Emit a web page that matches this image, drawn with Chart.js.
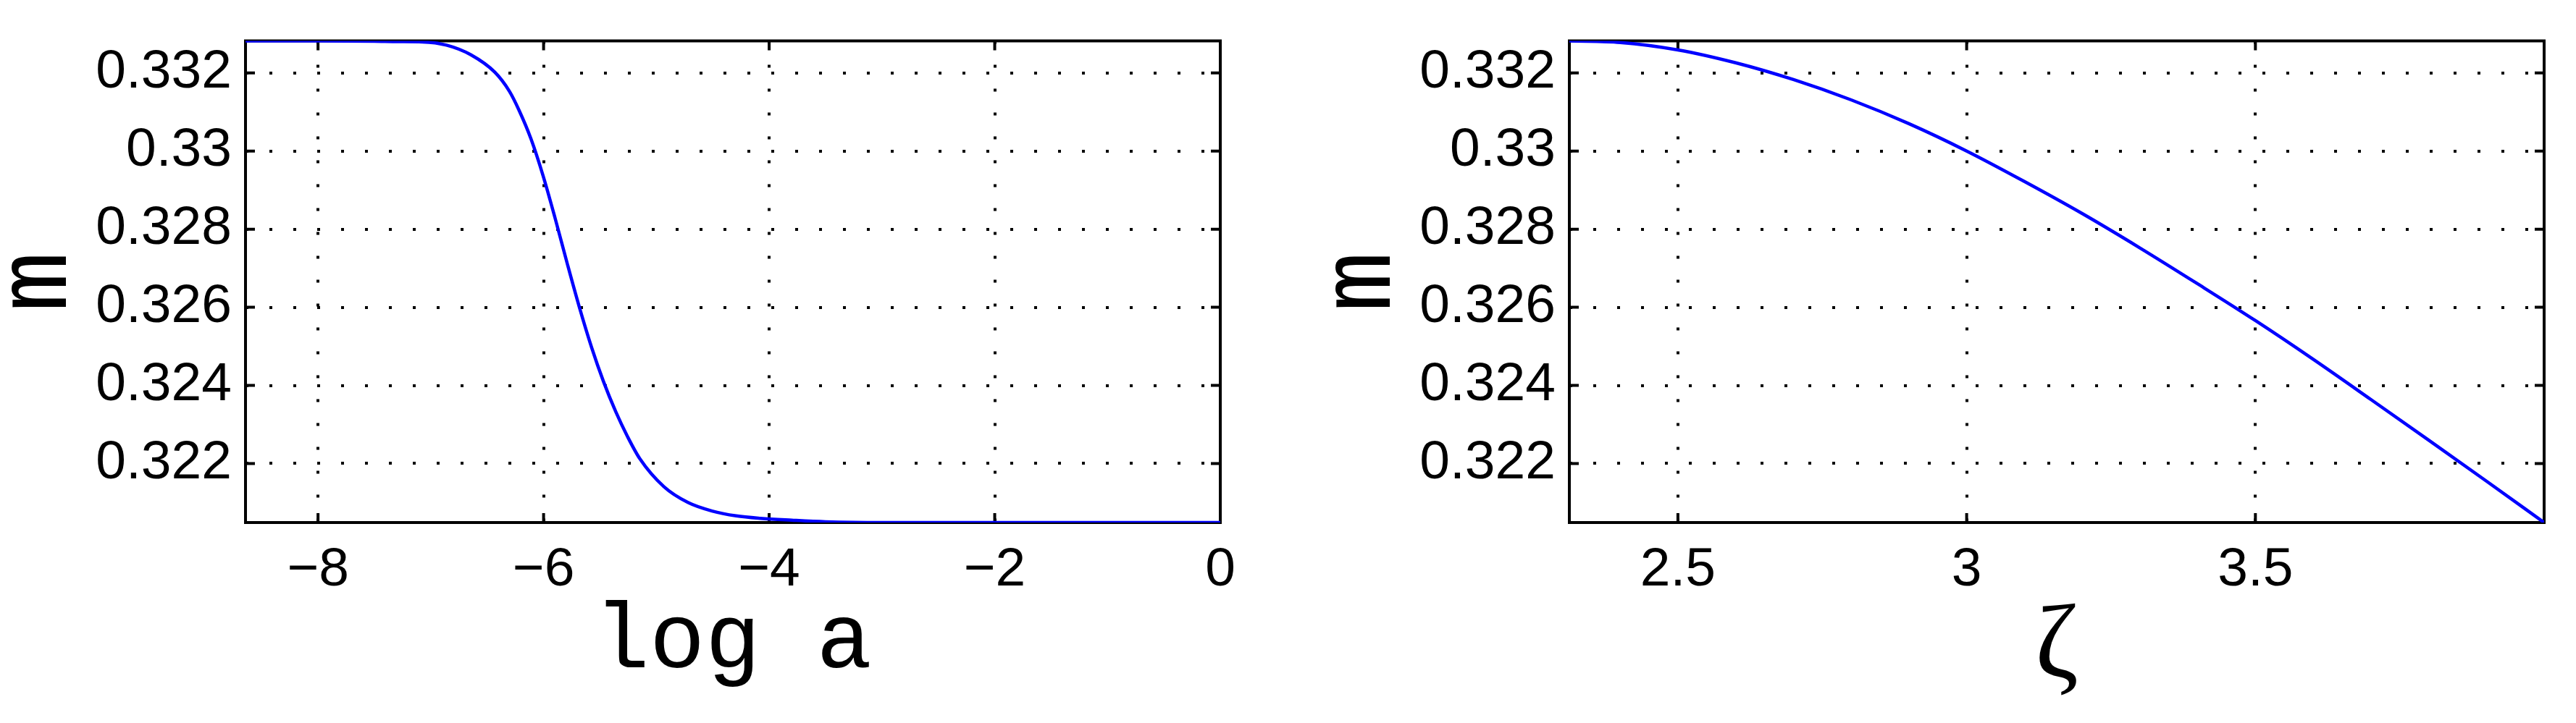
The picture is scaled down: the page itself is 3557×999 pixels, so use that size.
<!DOCTYPE html>
<html>
<head>
<meta charset="utf-8">
<script src="https://cdn.jsdelivr.net/npm/chart.js@4.4.1/dist/chart.umd.min.js"></script>
<style>
  html, body { margin: 0; padding: 0; background: #fff; }
  .panel { position: absolute; top: 0; }
  #left-panel { left: 0; }
  #right-panel { left: 1778px; }
</style>
</head>
<body>
<div class="panel" id="left-panel"><canvas id="left-chart" width="1778" height="999"></canvas></div>
<div class="panel" id="right-panel"><canvas id="right-chart" width="1779" height="999"></canvas></div>
<script>
// left panel: m against log a
const logA = [-8.643, -8.0, -7.5, -7.289, -7.075, -6.861, -6.647, -6.433, -6.304, -6.218,
              -6.112, -6.004, -5.897, -5.791, -5.683, -5.576, -5.469, -5.360, -5.255, -5.148,
              -4.934, -4.720, -4.506, -4.292, -4.078, -3.8, -3.5, -3.0, -2.0, 0];
const mLeft = [0.33282, 0.33282, 0.33281, 0.33280, 0.332794, 0.332712, 0.332468, 0.33202, 0.331534, 0.331046,
               0.330313, 0.329363, 0.328272, 0.327127, 0.326004, 0.324988, 0.3241, 0.323326, 0.322686, 0.32213,
               0.32141, 0.321004, 0.320785, 0.32066, 0.320597, 0.32055, 0.32051, 0.32049, 0.32049, 0.32049];

// right panel: m against zeta
const zeta = [2.312, 2.4, 2.5, 2.6, 2.7, 2.8, 2.9, 3.0, 3.1, 3.2,
              3.3, 3.4, 3.5, 3.6, 3.7, 3.8, 3.9, 4.0];
const mRight = [0.33282, 0.33278, 0.33259, 0.33226, 0.33183, 0.33131, 0.3307, 0.33, 0.32922, 0.3284,
                0.32752, 0.3266, 0.32566, 0.32467, 0.32364, 0.3226, 0.32155, 0.32049];

const yTicks = [0.322, 0.324, 0.326, 0.328, 0.33, 0.332];
const yTickLabels = ['0.322', '0.324', '0.326', '0.328', '0.33', '0.332'];
const leftXTicks = [-8, -6, -4, -2, 0];
const leftXTickLabels = ['\u22128', '\u22126', '\u22124', '\u22122', '0'];
const rightXTicks = [2.5, 3, 3.5];
const rightXTickLabels = ['2.5', '3', '3.5'];

const yRange = [0.32049, 0.33282];
const leftXRange = [-8.643, 0];
const rightXRange = [2.312, 4.0];

// box round the axes with inward ticks on all four sides
const boxPlugin = {
    id: 'matlabBox',
    beforeDatasetsDraw(chart) {
        const { ctx, chartArea: a, scales: { x, y } } = chart;
        const len = 13;
        ctx.save();
        ctx.strokeStyle = '#000';
        ctx.lineWidth = 4;
        ctx.setLineDash([]);
        ctx.strokeRect(a.left, a.top, a.right - a.left, a.bottom - a.top);
        ctx.beginPath();
        x.ticks.forEach(t => {
            const px = x.getPixelForValue(t.value);
            ctx.moveTo(px, a.bottom); ctx.lineTo(px, a.bottom - len);
            ctx.moveTo(px, a.top); ctx.lineTo(px, a.top + len);
        });
        y.ticks.forEach(t => {
            const py = y.getPixelForValue(t.value);
            ctx.moveTo(a.left, py); ctx.lineTo(a.left + len, py);
            ctx.moveTo(a.right, py); ctx.lineTo(a.right - len, py);
        });
        ctx.stroke();
        ctx.restore();
    }
};

function makePanel(id, xs, ys, xRange, xTicks, xLabels, xTitle, layout) {
    const tickFont = { family: 'Liberation Sans', size: 75, lineHeight: 1 };
    new Chart(document.getElementById(id), {
        type: 'line',
        data: {
            datasets: [{
                data: xs.map((v, i) => ({ x: v, y: ys[i] })),
                borderColor: '#0000ff',
                borderWidth: 4.5,
                pointRadius: 0,
                cubicInterpolationMode: 'monotone',
                fill: false
            }]
        },
        options: {
            responsive: false,
            devicePixelRatio: 1,
            animation: false,
            layout: { padding: { top: 45, right: layout.right, left: 0, bottom: 0 } },
            plugins: { legend: { display: false }, tooltip: { enabled: false } },
            scales: {
                x: {
                    type: 'linear',
                    min: xRange[0],
                    max: xRange[1],
                    afterBuildTicks: s => { s.ticks = xTicks.map(v => ({ value: v })); },
                    afterFit: s => { s.height = 999 - 722; },
                    grid: { color: '#000', lineWidth: 4, drawTicks: false },
                    border: { display: false, dash: [4, 29] },
                    ticks: {
                        color: '#000',
                        font: tickFont,
                        padding: 29,
                        autoSkip: false,
                        maxRotation: 0,
                        callback: (v, i) => xLabels[i]
                    },
                    title: {
                        display: true,
                        text: xTitle.text,
                        color: '#000',
                        font: xTitle.font,
                        padding: { top: 0, bottom: xTitle.pad }
                    }
                },
                y: {
                    type: 'linear',
                    min: yRange[0],
                    max: yRange[1],
                    afterBuildTicks: s => { s.ticks = yTicks.map(v => ({ value: v })); },
                    afterFit: s => { s.width = layout.left; },
                    grid: { color: '#000', lineWidth: 4, drawTicks: false },
                    border: { display: false, dash: [4, 29] },
                    ticks: {
                        color: '#000',
                        font: tickFont,
                        padding: 19,
                        autoSkip: false,
                        callback: (v, i) => yTickLabels[i]
                    },
                    title: {
                        display: true,
                        text: 'm',
                        color: '#000',
                        font: { family: 'Liberation Mono', size: 140, lineHeight: 0.5 },
                        padding: { top: 19 + layout.left - 339, bottom: 0 }
                    }
                }
            }
        },
        plugins: [boxPlugin]
    });
}

makePanel('left-chart', logA, mLeft, leftXRange, leftXTicks, leftXTickLabels,
    { text: 'log a', font: { family: 'Liberation Mono', size: 128, lineHeight: 0.5 }, pad: 79 },
    { left: 339, right: 1778 - 1685 });

makePanel('right-chart', zeta, mRight, rightXRange, rightXTicks, rightXTickLabels,
    { text: '\u03b6', font: { family: 'Liberation Serif', size: 145, lineHeight: 0.5 }, pad: 66 },
    { left: 2167 - 1778, right: 1779 - (3513 - 1778) });
</script>
</body>
</html>
